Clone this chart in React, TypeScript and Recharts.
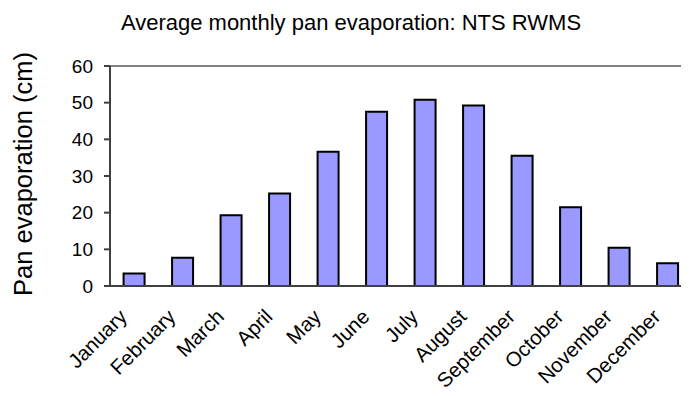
import React from 'react';
import { BarChart, Bar, XAxis, YAxis, ReferenceLine } from 'recharts';

const months = [
  'January', 'February', 'March', 'April', 'May', 'June',
  'July', 'August', 'September', 'October', 'November', 'December',
];
const evaporation = [3.4, 7.7, 19.3, 25.2, 36.6, 47.5, 50.8, 49.2, 35.5, 21.5, 10.4, 6.2];
const yTicks = [0, 10, 20, 30, 40, 50, 60];

const data = months.map((month, i) => ({ month, value: evaporation[i] }));

const FONT = '"Liberation Sans", Arial, sans-serif';

const MonthTick = ({ x, y, payload }: any) => (
  <text
    x={x - 6}
    y={y + 24}
    transform={`rotate(-45, ${x - 6}, ${y + 24})`}
    textAnchor="end"
    fontSize={20.5}
    fontFamily={FONT}
    fill="#000"
  >
    {payload.value}
  </text>
);

const YLabel = () => (
  <text
    x={32}
    y={174}
    transform="rotate(-90, 32, 174)"
    textAnchor="middle"
    fontSize={25.5}
    fontFamily={FONT}
    fill="#000"
  >
    Pan evaporation (cm)
  </text>
);

export default function App() {
  return (
    <div style={{ margin: -8, width: 689, height: 396, overflow: 'hidden', background: '#fff' }}>
      <BarChart
        width={700}
        height={396}
        data={data}
        margin={{ top: 66, right: 8, bottom: 0, left: 0 }}
        barCategoryGap="28%"
      >
        <text x={351} y={30} textAnchor="middle" fontSize={22} fontFamily={FONT} fill="#000">
          Average monthly pan evaporation: NTS RWMS
        </text>
        <XAxis
          dataKey="month"
          height={110}
          interval={0}
          tickLine={false}
          axisLine={{ stroke: '#404040', strokeWidth: 2 }}
          tick={<MonthTick />}
        />
        <YAxis
          width={110}
          domain={[0, 60]}
          ticks={yTicks}
          interval={0}
          tickSize={6}
          tickMargin={11}
          axisLine={{ stroke: '#404040', strokeWidth: 2 }}
          tickLine={{ stroke: '#404040', strokeWidth: 2 }}
          tick={{ fill: '#000', fontSize: 19, fontFamily: FONT }}
          label={<YLabel />}
        />
        <ReferenceLine y={60} stroke="#808080" strokeWidth={2} />
        <Bar dataKey="value" fill="#9999FF" stroke="#000" strokeWidth={2} isAnimationActive={false} />
      </BarChart>
    </div>
  );
}
